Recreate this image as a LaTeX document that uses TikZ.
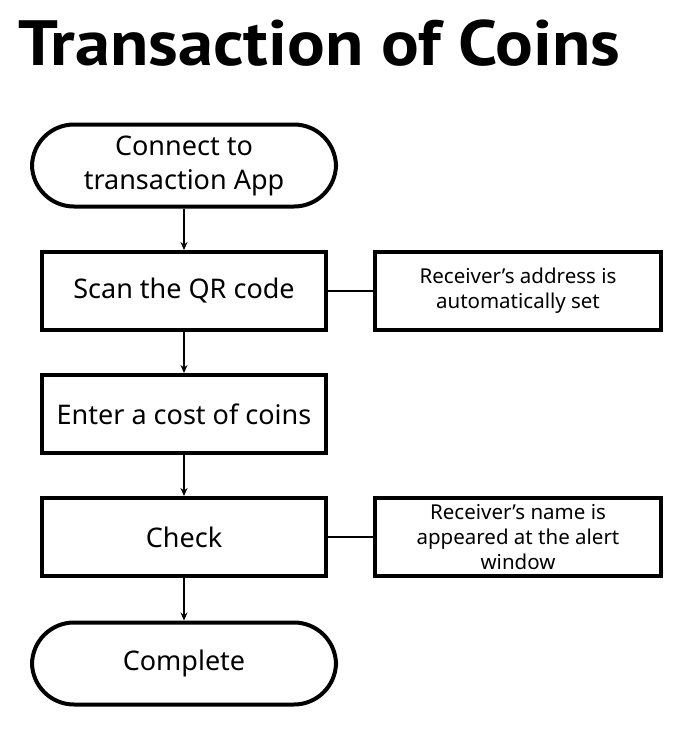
\documentclass[tikz,border=0pt]{standalone}
\usepackage{fontspec}
\setmainfont{Noto Sans}
\newfontfamily\titlefont{PT Sans}
\usetikzlibrary{arrows.meta}

\begin{document}
\begin{tikzpicture}[x=1pt,y=-1pt,
        terminal/.style={draw, line width=4pt, rounded corners=42pt, minimum width=304pt, minimum height=82pt, align=center, font=\fontsize{27}{34}\selectfont},
        procbox/.style={draw, line width=4pt, minimum width=284pt, minimum height=78pt, align=center, font=\fontsize{27}{34}\selectfont},
        notebox/.style={draw, line width=4pt, minimum width=286pt, minimum height=78pt, align=center, font=\fontsize{20.5}{25}\selectfont}]
        \useasboundingbox (0,0) rectangle (690,729);
        \node[anchor=base west, inner sep=0] (Title) at (18,65) {\scalebox{1.1}[1]{\titlefont\bfseries\fontsize{64}{70}\selectfont Transaction of Coins}};
        \begin{scope}
                \node[terminal] (Connect) at (184,165.5) {Connect to\\transaction App};
                \node[procbox] (Scan) at (184,291) {Scan the QR code};
                \node[notebox] (Address) at (518,291) {Receiver’s address is\\automatically set};
                \node[procbox] (Cost) at (184,414) {Enter a cost of coins};
                \node[procbox] (Check) at (184,537) {Check};
                \node[notebox] (Alert) at (518,537) {Receiver’s name is\\appeared at the alert\\window};
                \node[terminal] (Complete) at (184,663.5) {Complete};
        \end{scope}
        \begin{scope}[every path/.style={line width=2.5pt, -{Stealth[length=8pt,width=7pt]}}]
                \path (Connect) edge (Scan);
                \path (Scan) edge (Cost);
                \path (Cost) edge (Check);
                \path (Check) edge (Complete);
        \end{scope}
        \begin{scope}[every path/.style={line width=2pt}]
                \path (Scan) edge (Address);
                \path (Check) edge (Alert);
        \end{scope}
\end{tikzpicture}
\end{document}
